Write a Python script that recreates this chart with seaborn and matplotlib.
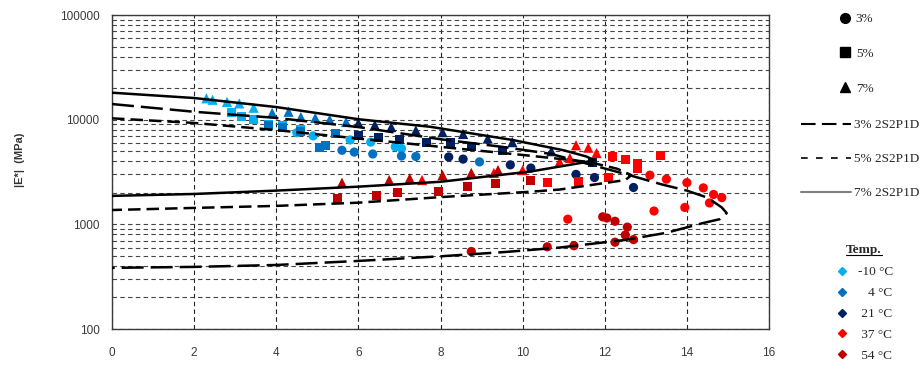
import numpy as np
import pandas as pd
import matplotlib
matplotlib.use("Agg")
import matplotlib.pyplot as plt
from matplotlib.lines import Line2D
from matplotlib.ticker import LogLocator, NullFormatter, FuncFormatter, FixedLocator
import seaborn as sns

# ---------------- data ----------------
# 2S2P1D model curves (phase angle, |E*|)
curve7_x = [0, 2, 4, 6, 7.75, 9.75, 11.0, 11.55, 11.75, 11.4, 10.2, 8.0, 6.0, 4.0, 2.0, 0]
curve7_y = [18100, 16100, 13200, 10100, 8550, 6400, 5100, 4450, 4100, 3850, 3200, 2550, 2290, 2100, 1950, 1870]

curve5_x = [0, 2, 4, 6, 8.2, 10.0, 11.6, 12.3, 12.65, 12.5, 12.0, 10.9, 10.2, 8.0, 6.0, 4.0, 2.0, 0]
curve5_y = [10300, 9300, 7950, 6600, 5400, 4600, 3950, 3400, 2950, 2650, 2480, 2150, 2050, 1820, 1610, 1500, 1435, 1370]

curve3_x = [0, 2, 4, 6, 8, 9.5, 10.7, 11.9, 12.6, 13.4, 14.0, 14.5, 14.85, 14.97, 14.8, 14.4, 13.5, 12.5,
            10.9, 9.6, 8, 6, 4, 2, 0]
curve3_y = [14100, 11900, 10400, 8500, 6500, 5500, 4700, 3500, 2950, 2400, 2100, 1800, 1450, 1280, 1120, 1030,
            830, 710, 600, 545, 495, 447, 409, 392, 384]

# measured points per temperature: phase angle, modulus, mix
tm10_x = [2.3, 2.45, 2.8, 3.1, 3.45,
          2.9, 3.15, 3.45, 3.8, 4.15, 4.6,
          4.5, 4.9, 5.8, 6.3, 6.9, 7.05]
tm10_y = [16000, 15500, 14800, 14300, 13000,
          11800, 10800, 10100, 9000, 8700, 8100,
          7500, 7000, 6400, 6100, 5500, 5300]
tm10_mix = ["7%"] * 5 + ["5%"] * 6 + ["3%"] * 6

t4_x = [3.9, 4.3, 4.6, 4.95, 5.3, 5.7,
        3.8, 4.15, 4.6, 5.05, 5.2, 5.45,
        5.6, 5.9, 6.35, 7.05, 7.4, 8.95]
t4_y = [11600, 11900, 10600, 10400, 10000, 9500,
        8800, 8400, 7700, 5400, 5700, 7300,
        5100, 4900, 4700, 4500, 4450, 3950]
t4_mix = ["7%"] * 6 + ["5%"] * 6 + ["3%"] * 6

t21_x = [6.0, 6.4, 6.8, 7.4, 8.05, 8.55, 9.15, 9.75, 10.7,
         6.0, 6.5, 7.0, 7.65, 8.25, 8.75, 9.5, 11.7,
         8.2, 8.55, 9.7, 10.2, 11.3, 11.75, 12.7]
t21_y = [9300, 8900, 8500, 7900, 7600, 7300, 6600, 6100, 5000,
         7100, 6800, 6500, 6100, 6000, 5500, 5100, 3900,
         4400, 4200, 3700, 3450, 3000, 2800, 2250]
t21_mix = ["7%"] * 9 + ["5%"] * 8 + ["3%"] * 7

t37_x = [7.55, 9.3, 10.0, 10.9, 11.15, 11.3, 11.6, 11.8,
         10.6, 11.35, 12.1, 12.2, 12.5, 12.8, 12.8, 13.35,
         11.1, 13.1, 13.5, 14.0, 14.4, 14.65, 14.85, 14.55, 13.95, 13.2]
t37_y = [2650, 3100, 3300, 3950, 4300, 5700, 5400, 4800,
         2500, 2550, 2800, 4450, 4150, 3850, 3400, 4500,
         1120, 2950, 2700, 2500, 2230, 1930, 1800, 1600, 1450, 1340]
t37_mix = ["7%"] * 8 + ["5%"] * 8 + ["3%"] * 10

t54_x = [5.6, 6.75, 7.25, 8.05, 8.75, 9.4,
         5.5, 6.45, 6.95, 7.95, 8.65, 9.35, 10.2,
         8.75, 10.6, 11.25, 11.95, 12.05, 12.25, 12.55, 12.5, 12.7, 12.25]
t54_y = [2500, 2650, 2750, 2950, 3100, 3300,
         1780, 1900, 2000, 2080, 2280, 2480, 2650,
         550, 610, 625, 1180, 1150, 1070, 940, 790, 715, 675]
t54_mix = ["7%"] * 6 + ["5%"] * 7 + ["3%"] * 10

temp_labels = ["-10 °C", "4 °C", "21 °C", "37 °C", "54 °C"]
temp_colors = ["#00B0F0", "#0070C0", "#002060", "#FF0000", "#C00000"]
mix_labels = ["3%", "5%", "7%"]
curve_labels = ["3% 2S2P1D", "5% 2S2P1D", "7% 2S2P1D"]

# ---------------- build table ----------------
frames = []
for lab, xs, ys, ms in zip(temp_labels,
                           [tm10_x, t4_x, t21_x, t37_x, t54_x],
                           [tm10_y, t4_y, t21_y, t37_y, t54_y],
                           [tm10_mix, t4_mix, t21_mix, t37_mix, t54_mix]):
    frames.append(pd.DataFrame({"phase": xs, "modulus": ys, "mix": ms, "temp": lab}))
df = pd.concat(frames, ignore_index=True)

# ---------------- style ----------------
sns.set_style("white")
plt.rcParams["font.family"] = ["Liberation Sans", "DejaVu Sans"]

fig = plt.figure(figsize=(9.24, 3.73), dpi=100)
L, R, T, B = 112, 769, 15, 329
W, H = 924, 373
ax = fig.add_axes([L / W, 1 - B / H, (R - L) / W, (B - T) / H])
ax.set_yscale("log")
ax.set_xlim(0, 16)
ax.set_ylim(100, 100000)

palette = dict(zip(temp_labels, temp_colors))
marker_map = {"3%": "o", "5%": "s", "7%": "^"}
size_map = {"3%": 44, "5%": 42, "7%": 54}
for mix in mix_labels:
    sub = df[df["mix"] == mix]
    sns.scatterplot(data=sub, x="phase", y="modulus", hue="temp", palette=palette,
                    marker=marker_map[mix], s=size_map[mix], linewidth=0,
                    legend=False, ax=ax, zorder=3)

lw = 1.8
for cx, cy, dash in [(curve7_x, curve7_y, None),
                     (curve5_x, curve5_y, (5.0, 2.4)),
                     (curve3_x, curve3_y, (8.8, 2.8))]:
    sns.lineplot(x=cx, y=cy, sort=False, estimator=None, color="black",
                 linewidth=lw, legend=False, ax=ax, zorder=4)
    line = ax.lines[-1]
    if dash is not None:
        line.set_dashes(dash)

# axes decoration
ax.set_xticks(range(0, 17, 2))
ax.yaxis.set_major_locator(FixedLocator([100, 1000, 10000, 100000]))
ax.yaxis.set_major_formatter(FuncFormatter(lambda v, p: f"{int(round(v))}"))
ax.yaxis.set_minor_locator(LogLocator(base=10, subs=np.arange(2, 10)))
ax.yaxis.set_minor_formatter(NullFormatter())
ax.tick_params(axis="both", which="both", length=0, labelsize=8.5, labelcolor="#3a3a3a")
ax.tick_params(axis="y", pad=9)
ax.tick_params(axis="x", pad=13)
ax.grid(which="major", axis="x", linestyle=(0, (4, 3)), color="#222222", linewidth=0.8)
ax.grid(which="major", axis="y", linestyle=(0, (4, 3)), color="#444444", linewidth=0.8)
ax.grid(which="minor", axis="y", linestyle=(0, (4, 3)), color="#444444", linewidth=0.8)
ax.set_axisbelow(True)
for s in ax.spines.values():
    s.set_color("#3a3a3a")
    s.set_linewidth(1.0)
ax.set_xlabel("")
ax.set_ylabel("|E*|  (MPa)", fontsize=8, fontweight="bold", color="#333333")
ax.yaxis.set_label_coords((25 - L) / (R - L), (B - 160) / (B - T))

# ---------------- legends ----------------
serif = {"family": ["Liberation Serif", "DejaVu Serif"], "size": 9.5}

mk_handles = [Line2D([], [], marker=marker_map[m], color="black", linestyle="None",
                     markersize=7 if m != "7%" else 7.5) for m in mix_labels]
leg1 = fig.legend(handles=mk_handles, labels=mix_labels, loc="upper left",
                  bbox_to_anchor=(838 / W, 1 - 13 / H), frameon=False, prop=serif,
                  handlelength=1.0, handletextpad=0.35, labelspacing=1.7,
                  borderpad=0, borderaxespad=0)

ln_handles = [Line2D([], [], color="black", linewidth=1.5, dashes=(7, 3)),
              Line2D([], [], color="black", linewidth=1.2, dashes=(4, 5)),
              Line2D([], [], color="#808080", linewidth=1.5)]
leg2 = fig.legend(handles=ln_handles, labels=curve_labels, loc="upper left",
                  bbox_to_anchor=(801 / W, 1 - 119 / H), frameon=False, prop=serif,
                  handlelength=3.8, handletextpad=0.25, labelspacing=1.65,
                  borderpad=0, borderaxespad=0)

tp_handles = [Line2D([], [], marker="D", color=c, linestyle="None", markersize=4.5)
              for c in temp_colors]
tp_text = ["-10 °C", "   4 °C", " 21 °C", " 37 °C", " 54 °C"]
leg3 = fig.legend(handles=tp_handles, labels=tp_text, loc="upper left",
                  bbox_to_anchor=(837 / W, 1 - 266 / H), frameon=False, prop=serif,
                  handlelength=0.8, handletextpad=0.8, labelspacing=0.66,
                  borderpad=0, borderaxespad=0)

title = fig.text(864 / W, 1 - 250 / H, "Temp.", ha="center", va="center",
                 fontfamily=["Liberation Serif", "DejaVu Serif"], fontsize=9.5,
                 fontweight="bold")

fig.canvas.draw()
tb = title.get_window_extent()
fig.add_artist(Line2D([tb.x0, tb.x1], [tb.y0 + 1.5, tb.y0 + 1.5], transform=None,
                      color="black", linewidth=0.8))

fig.savefig("out.png", dpi=100)
